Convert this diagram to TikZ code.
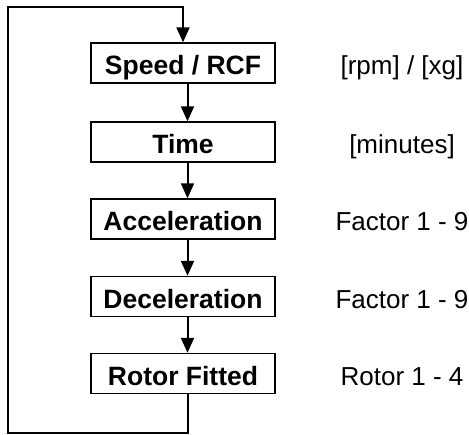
\documentclass[tikz,border=0pt]{standalone}
\usepackage{fontspec}
\setmainfont{Liberation Sans}
\usetikzlibrary{arrows.meta}
\begin{document}
\begin{tikzpicture}[x=1pt,y=-1pt,
  stepbox/.style={draw, line width=1.4pt, minimum width=184pt, minimum height=40pt, inner sep=0pt,
    font=\fontsize{26.5}{30}\selectfont\bfseries, text height=25pt, text depth=1pt},
  unit/.style={inner sep=0pt, font=\fontsize{26}{30}\selectfont, text height=25pt, text depth=1pt},
  conn/.style={line width=2pt, -{Triangle[width=13pt,length=15pt]}}]
\useasboundingbox (0,0) rectangle (469,435);
\node[stepbox] (a) at (183,63) {Speed / RCF};
\node[stepbox] (b) at (183,142) {Time};
\node[stepbox] (c) at (183,219) {Acceleration};
\node[stepbox] (d) at (183,296.5) {Deceleration};
\node[stepbox] (e) at (183,373.5) {Rotor Fitted};
\node[unit] (ua) at (402,63) {[rpm] / [xg]};
\node[unit] (ub) at (402,142) {[minutes]};
\node[unit] (uc) at (402,219) {Factor 1 - 9};
\node[unit] (ud) at (402,296.5) {Factor 1 - 9};
\node[unit] (ue) at (402,373.5) {Rotor 1 - 4};
\draw[conn] ([xshift=4.5pt]a.south) -- ([xshift=4.5pt]b.north);
\draw[conn] ([xshift=4.5pt]b.south) -- ([xshift=4.5pt]c.north);
\draw[conn] ([xshift=4.5pt]c.south) -- ([xshift=4.5pt]d.north);
\draw[conn] ([xshift=4.5pt]d.south) -- ([xshift=4.5pt]e.north);
\coordinate (br) at (187.5,433);
\coordinate (bl) at (7.5,433);
\coordinate (tl) at (7.5,7);
\coordinate (tr) at (183,7);
\draw[conn] ([xshift=4.5pt]e.south) -- (br) -- (bl) -- (tl) -- (tr) -- (a.north);
\end{tikzpicture}
\end{document}
